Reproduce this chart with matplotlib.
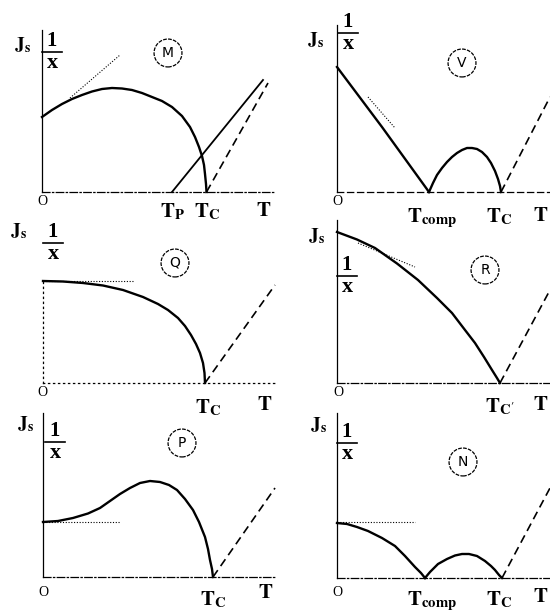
import matplotlib
matplotlib.use('Agg')
import matplotlib.pyplot as plt
from matplotlib.lines import Line2D

plt.rcParams['mathtext.fontset'] = 'stix'
plt.rcParams['font.family'] = ['Liberation Serif', 'DejaVu Serif']

# ---- data (T and J in arbitrary schematic units) ----
# M type
m_T = [0, .10, .20, .30, .40, .50, .60, .70, .80, .90, 1.00, 1.10, 1.20, 1.30,
       1.40, 1.48, 1.53, 1.57, 1.60, 1.62, 1.63, 1.64, 1.645]
m_J = [.75, .82, .88, .93, .97, 1.005, 1.03, 1.04, 1.035, 1.02, .99, .95, .91, .85,
       .76, .65, .55, .45, .36, .27, .18, .08, 0]
m_invx_T = [1.30, 2.21]
m_invx = [0, 1.12]
m_dash_T = [1.645, 2.26]
m_dash = [0, 1.09]
m_tan_T = [.28, .78]
m_tan = [.94, 1.37]

# V type
v_T = [0, .45, .92]
v_J = [1.25, .65, 0]
v_T2 = [.92, .96, 1.00, 1.05, 1.10, 1.15, 1.20, 1.25, 1.30, 1.35, 1.40, 1.45,
        1.50, 1.54, 1.58, 1.61, 1.63, 1.64]
v_J2 = [0, .09, .17, .24, .30, .35, .39, .42, .44, .44, .43, .40,
        .35, .29, .21, .13, .06, 0]
v_tan_T = [.31, .58]
v_tan = [.95, .64]
v_dash_T = [1.64, 2.13]
v_dash = [0, .95]

# Q type
q_T = [0, .20, .40, .60, .80, 1.00, 1.15, 1.25, 1.35, 1.42, 1.48, 1.53, 1.57,
       1.60, 1.615, 1.62]
q_J = [1.02, 1.015, 1.00, .975, .93, .86, .79, .73, .65, .57, .48, .39, .30,
       .20, .10, 0]
q_flat_T = [0, .90]
q_flat = [1.02, 1.02]
q_dash_T = [1.62, 2.32]
q_dash = [0, .98]

# R type
r_T = [0, .20, .38, .60, .81, 1.00, 1.15, 1.28, 1.38, 1.47, 1.55, 1.60, 1.63]
r_J = [1.51, 1.435, 1.35, 1.195, 1.03, .85, .70, .53, .40, .26, .13, .05, 0]
r_tan_T = [.21, .78]
r_tan = [1.40, 1.16]
r_dash_T = [1.63, 2.13]
r_dash = [0, .93]

# P type
p_T = [0, .15, .30, .45, .57, .67, .77, .87, .97, 1.07, 1.17, 1.26, 1.34, 1.42,
       1.50, 1.56, 1.62, 1.65, 1.67, 1.69, 1.70]
p_J = [.55, .56, .59, .635, .69, .76, .83, .89, .94, .96, .95, .92, .87, .78,
       .67, .55, .40, .28, .17, .08, 0]
p_flat_T = [0, .77]
p_flat = [.55, .55]
p_dash_T = [1.70, 2.32]
p_dash = [0, .89]

# N type
n_T = [0, .10, .20, .31, .45, .58, .68, .78, .84, .88]
n_J = [.55, .54, .51, .47, .40, .32, .22, .11, .05, 0]
n_T2 = [.88, .93, 1.01, 1.10, 1.18, 1.25, 1.32, 1.40, 1.48, 1.54, 1.58, 1.62, 1.65]
n_J2 = [0, .06, .14, .19, .225, .24, .24, .22, .17, .12, .08, .03, 0]
n_flat_T = [0, .78]
n_flat = [.56, .56]
n_dash_T = [1.65, 2.13]
n_dash = [0, .90]

W, H = 550, 615
fig = plt.figure(figsize=(5.5, 6.15), dpi=100)


def fx(x):
    return x / W


def fy(y):
    return 1 - y / H


def panel(left, base, width, height, yaxis_ls='-', base_ls=(0, (6, 2, 1, 2))):
    ax = fig.add_axes([fx(left), fy(base), width / W, height / H])
    ax.set_xlim(0, width / 100)
    ax.set_ylim(0, height / 100)
    ax.set_xticks([])
    ax.set_yticks([])
    for s in ['top', 'right']:
        ax.spines[s].set_visible(False)
    ax.spines['left'].set_linewidth(0.9)
    ax.spines['left'].set_linestyle(yaxis_ls)
    ax.spines['bottom'].set_linewidth(0.9)
    ax.spines['bottom'].set_linestyle(base_ls)
    ax.patch.set_alpha(0)
    return ax


def circled(x, y, letter):
    fig.text(fx(x), fy(y), letter, ha='center', va='center', fontsize=10,
             family='DejaVu Sans',
             bbox=dict(boxstyle='circle,pad=0.5', fc='none', ec='black',
                       lw=0.9, ls=(0, (3, 1))))


def label(x, y, s, size=15):
    fig.text(fx(x), fy(y), s, ha='center', va='center', fontsize=size)


def frac(x, ybar):
    fig.text(fx(x), fy(ybar - 11), '1', ha='center', va='center',
             fontsize=15, weight='bold')
    fig.text(fx(x), fy(ybar + 11), 'x', ha='center', va='center',
             fontsize=16, weight='bold')
    fig.add_artist(Line2D([fx(x - 10), fx(x + 10)], [fy(ybar), fy(ybar)],
                          color='black', lw=1.2))


JS = r'$\mathbf{J}_{\mathbf{s}}$'
TC = r'$\mathbf{T}_{\mathbf{C}}$'
TT = r'$\mathbf{T}$'
TCOMP = r'$\mathbf{T}_{\mathbf{comp}}$'

curve = dict(color='black', lw=1.7, clip_on=False, solid_joinstyle='round')
dash = dict(color='black', lw=1.2, ls=(0, (5, 3)), clip_on=False)
dot = dict(color='black', lw=0.8, ls=(0, (1, 1.5)), clip_on=False)

# M
ax = panel(42, 192, 233, 162)
ax.plot(m_T, m_J, **curve)
ax.plot(m_invx_T, m_invx, color='black', lw=1.3, clip_on=False)
ax.plot(m_dash_T, m_dash, **dash)
ax.plot(m_tan_T, m_tan, **dot)
label(22, 45, JS, 14); frac(52, 52)
label(42, 202, 'O', 10)
label(172, 212, r'$\mathbf{T}_{\mathbf{P}}$'); label(207, 212, TC); label(264, 212, TT)
circled(168, 53, 'M')

# V
ax = panel(337, 192, 213, 167, base_ls=(0, (5, 3)))
ax.plot(v_T, v_J, **curve)
ax.plot(v_T2, v_J2, **curve)
ax.plot(v_tan_T, v_tan, **dot)
ax.plot(v_dash_T, v_dash, **dash)
label(315, 40, JS, 14); frac(348, 33)
label(337, 201, 'O', 10)
label(432, 218, TCOMP); label(499, 217, TC); label(541, 217, TT)
circled(462, 63, 'V')

# Q
ax = panel(43, 383, 232, 103, yaxis_ls=(0, (1, 3)), base_ls=(0, (1, 3)))
ax.plot(q_T, q_J, **curve)
ax.plot(q_flat_T, q_flat, **dot)
ax.plot(q_dash_T, q_dash, **dash)
label(18, 231, JS, 14); frac(53, 243)
label(42, 393, 'O', 10)
label(208, 408, TC); label(265, 405, TT)
circled(175, 263, 'Q')

# R
ax = panel(337, 383, 213, 163)
ax.plot(r_T, r_J, **curve)
ax.plot(r_tan_T, r_tan, **dot)
ax.plot(r_dash_T, r_dash, **dash)
label(316, 236, JS, 14); frac(347, 276)
label(338, 393, 'O', 10)
label(500, 407, r"$\mathbf{T}_{\mathbf{C'}}$"); label(541, 405, TT)
circled(485, 270, 'R')

# P
ax = panel(43, 577, 232, 164)
ax.plot(p_T, p_J, **curve)
ax.plot(p_flat_T, p_flat, **dot)
ax.plot(p_dash_T, p_dash, **dash)
label(25, 424, JS, 14); frac(55, 442)
label(43, 592, 'O', 10)
label(213, 600, TC); label(266, 593, TT)
circled(182, 443, 'P')

# N
ax = panel(337, 578, 213, 165)
ax.plot(n_T, n_J, **curve)
ax.plot(n_T2, n_J2, **curve)
ax.plot(n_flat_T, n_flat, **dot)
ax.plot(n_dash_T, n_dash, **dash)
label(318, 425, JS, 14); frac(347, 443)
label(337, 592, 'O', 10)
label(432, 601, TCOMP); label(499, 600, TC); label(541, 597, TT)
circled(463, 462, 'N')

fig.savefig('out.png', dpi=100)
